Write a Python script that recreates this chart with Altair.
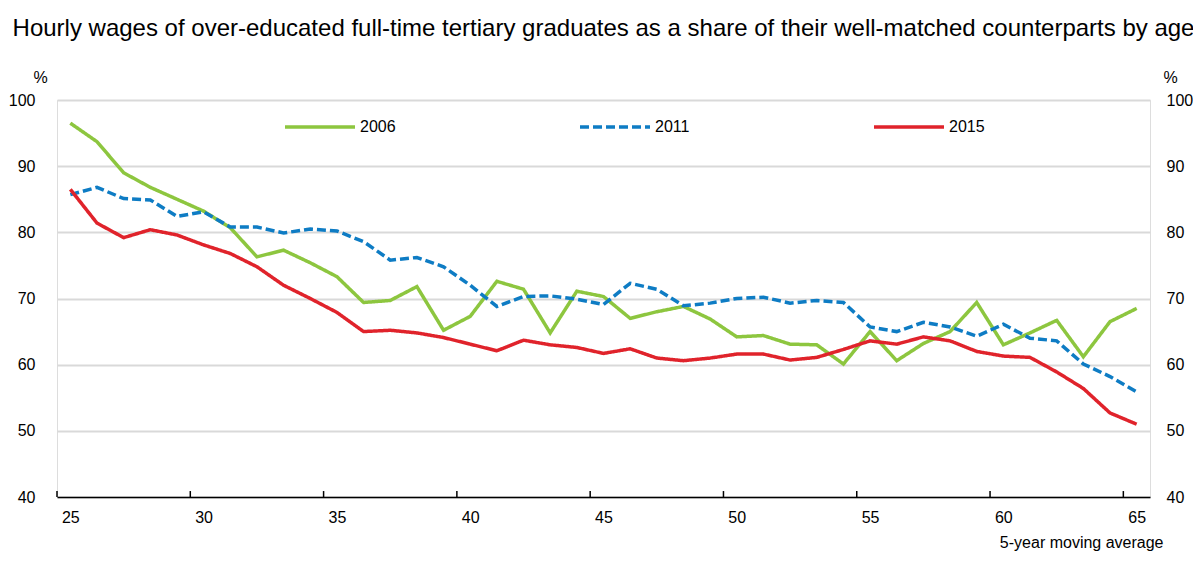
import altair as alt
import pandas as pd

ages = list(range(25, 66))
v2006 = [96.5, 93.7, 89.0, 86.8, 85.0, 83.2, 80.7, 76.3, 77.3, 75.4, 73.3, 69.4, 69.7, 71.8, 65.2,
         67.3, 72.6, 71.4, 64.8, 71.1, 70.3, 67.0, 68.0, 68.8, 66.9, 64.2, 64.4, 63.1, 63.0, 60.1,
         65.0, 60.6, 63.2, 65.0, 69.4, 63.0, 64.8, 66.7, 61.2, 66.5, 68.5]
v2011 = [85.7, 86.8, 85.1, 84.9, 82.4, 83.1, 80.8, 80.8, 79.9, 80.5, 80.2, 78.6, 75.8, 76.2, 74.8,
         72.0, 68.8, 70.3, 70.4, 69.9, 69.1, 72.3, 71.4, 68.9, 69.3, 70.0, 70.2, 69.3, 69.7, 69.4,
         65.7, 65.0, 66.4, 65.7, 64.3, 66.1, 64.0, 63.6, 60.1, 58.2, 55.9]
v2015 = [86.5, 81.4, 79.2, 80.4, 79.6, 78.1, 76.8, 74.8, 72.0, 70.0, 67.9, 65.0, 65.2, 64.8, 64.1,
         63.1, 62.1, 63.7, 63.0, 62.6, 61.7, 62.4, 61.0, 60.6, 61.0, 61.6, 61.6, 60.7, 61.1, 62.3,
         63.6, 63.1, 64.2, 63.6, 62.0, 61.3, 61.1, 58.9, 56.4, 52.7, 51.0]
years = ["2006", "2011", "2015"]
colors = ["#8DC63F", "#0E7CC4", "#E0232B"]
dashes = [[1, 0], [9, 4], [1, 0]]
tick_bounds = [24.5, 29.5, 34.5, 39.5, 44.5, 49.5, 54.5, 59.5, 64.5]
y_ticks = [40, 50, 60, 70, 80, 90, 100]

rows = []
for yr, vals in zip(years, [v2006, v2011, v2015]):
    for a, v in zip(ages, vals):
        rows.append({"age": a, "value": v, "year": yr})
df = pd.DataFrame(rows)
ticks_df = pd.DataFrame({"age": tick_bounds, "y0": [40] * len(tick_bounds), "y1": [40.9] * len(tick_bounds)})

FONT = "Liberation Sans"
xscale = alt.Scale(domain=[24.5, 65.5], nice=False, zero=False)
yscale = alt.Scale(domain=[40, 100], nice=False, zero=False)

x_axis = alt.Axis(values=tick_bounds, labelExpr="'' + (datum.value + 0.5)", labelOffset=13.3,
                  ticks=False, grid=False, domainColor="#000000", domainWidth=1.5,
                  labelFontSize=16, labelPadding=12, labelColor="#000000", labelFont=FONT,
                  labelFlush=False, labelOverlap=False,
                  title="5-year moving average", titleFontSize=16, titleFontWeight="normal",
                  titleFont=FONT, titleColor="#000000", titleAlign="right",
                  titleX=1106, titleY=45, titleBaseline="middle")

lines = alt.Chart(df).mark_line(strokeWidth=3.5).encode(
    x=alt.X("age:Q", scale=xscale, axis=x_axis),
    y=alt.Y("value:Q", scale=yscale,
            axis=alt.Axis(values=y_ticks, domain=False, ticks=False, grid=True,
                          gridColor="#D9D9D9", gridWidth=2, labelFontSize=16, labelPadding=22,
                          labelColor="#000000", labelFont=FONT,
                          title="%", titleAngle=0, titleFontSize=16, titleFontWeight="normal",
                          titleFont=FONT, titleColor="#000000", titleAlign="center",
                          titleBaseline="middle", titleX=-17, titleY=-23)),
    color=alt.Color("year:N", scale=alt.Scale(domain=years, range=colors),
                    legend=alt.Legend(title=None, orient="none", legendX=226, legendY=-10,
                                      direction="horizontal", columns=3, symbolType="stroke",
                                      symbolSize=4900, symbolStrokeWidth=3.5, labelFontSize=16,
                                      labelFont=FONT, labelColor="#000000", labelOffset=3,
                                      columnPadding=177)),
    strokeDash=alt.StrokeDash("year:N", scale=alt.Scale(domain=years, range=dashes), legend=None),
)

tick_marks = alt.Chart(ticks_df).mark_rule(color="#000000", strokeWidth=1.5).encode(
    x=alt.X("age:Q", scale=xscale, axis=x_axis),
    y=alt.Y("y0:Q", scale=yscale,
            axis=alt.Axis(orient="right", values=y_ticks, domain=False, ticks=False,
                          grid=False, labelFontSize=16, labelPadding=16, labelColor="#000000",
                          labelFont=FONT,
                          title="%", titleAngle=0, titleFontSize=16, titleFontWeight="normal",
                          titleFont=FONT, titleColor="#000000", titleAlign="center",
                          titleBaseline="middle", titleX=20, titleY=-23)),
    y2="y1:Q",
)

chart = alt.layer(lines, tick_marks).resolve_axis(y="independent").properties(
    width=1093, height=397,
    autosize=alt.AutoSizeParams(type="none"),
    padding={"left": 49, "top": 92, "right": 43, "bottom": 56},
    title=alt.TitleParams("Hourly wages of over-educated full-time tertiary graduates as a share of their well-matched counterparts by age",
                          fontSize=24, fontWeight="normal", font=FONT, color="#000000",
                          anchor="middle", frame="group", offset=28),
).configure_view(stroke=None).configure(background="white")

chart.save("out.html", embed_options={"renderer": "svg", "actions": False})
